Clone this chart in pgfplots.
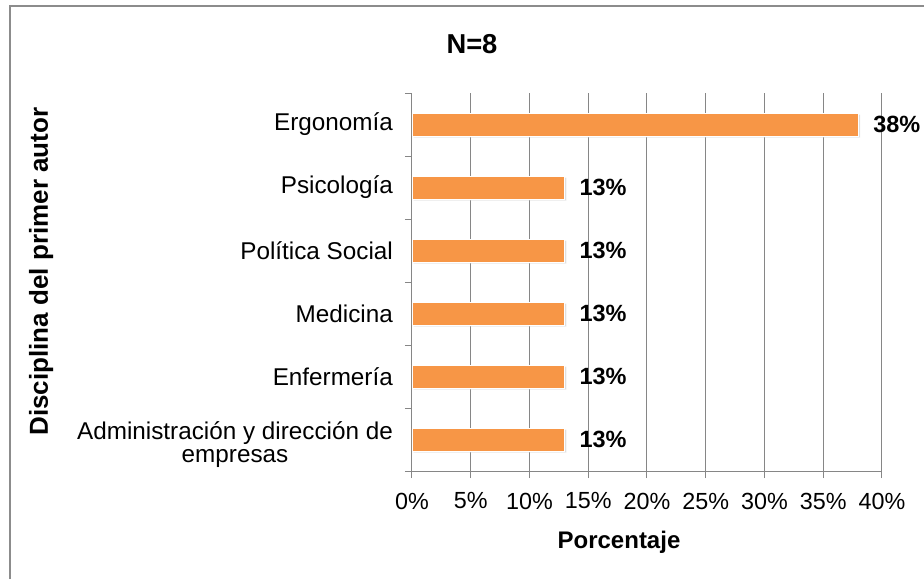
\documentclass[border=0pt]{standalone}
\usepackage{fontspec}
\setmainfont{Liberation Sans}
\usepackage{pgfplots}
\pgfplotsset{compat=1.18}
\usetikzlibrary{shadows}
\definecolor{barorange}{HTML}{F79646}
\definecolor{gridgray}{HTML}{868686}
\definecolor{framegray}{HTML}{8C8C8C}
\begin{document}
\begin{tikzpicture}[font=\fontsize{17}{17}\selectfont]
\useasboundingbox (-309pt,-81pt) rectangle (384pt,353.25pt);
\draw[color=framegray, line width=1.5pt] (-301.5pt,-81pt) -- (-301.5pt,348.75pt) -- (384pt,348.75pt);
\begin{axis}[
  at={(0pt,0pt)}, anchor=south west,
  width=352.5pt, height=283.5pt, scale only axis,
  xmin=0, xmax=40, ymin=-0.5, ymax=5.5,
  xtick={0,5,...,40},
  xticklabel={\pgfmathprintnumber{\tick}\%},
  /pgf/number format/assume math mode=true,
  xmajorgrids,
  grid style={gridgray, line width=0.75pt},
  ytick={0,...,5},
  yticklabels={{\raisebox{-4.5pt}[\height][\depth]{\begin{tabular}{@{}c@{}}Administración y dirección de\\empresas\end{tabular}}}, Enfermería, Medicina, Política Social, Psicología, Ergonomía},
  yticklabel style={font=\fontsize{18.2}{17.3}\selectfont, xshift=-5.6pt},
  xticklabel style={font=\fontsize{17.5}{17.5}\selectfont, yshift=-7.5pt},
  minor ytick={-0.5,0.5,...,5.5},
  tick align=outside,
  major tick length=5.25pt, minor tick length=5.25pt,
  major y tick style={draw=none},
  x tick style={gridgray, line width=0.75pt},
  minor y tick style={gridgray, line width=0.75pt},
  axis x line*=bottom, axis y line*=left,
  axis line style={gridgray, line width=0.75pt, -},
  xbar, bar width=17.25pt,
  point meta=x,
  nodes near coords={\pgfmathprintnumber[fixed,precision=0]{\pgfplotspointmeta}\%},
  nodes near coords style={font=\fontsize{17.6}{17.6}\selectfont\bfseries, anchor=west, xshift=7.5pt, text=black},
  clip=false,
]
\addplot[fill=barorange, draw=white, line width=0.6pt,
  drop shadow={shadow xshift=1.2pt, shadow yshift=-1.2pt, opacity=0.25}]
  coordinates {(13,0) (13,1) (13,2) (13,3) (13,4) (38,5)};
\end{axis}
\node[font=\fontsize{20.5}{20.5}\selectfont\bfseries, anchor=base] at (45pt,312.75pt) {N=8};
\node[font=\fontsize{18}{18}\selectfont\bfseries, anchor=base] at (155.25pt,-57.75pt) {Porcentaje};
\node[font=\fontsize{19.5}{19.5}\selectfont\bfseries, anchor=base, rotate=90] at (-273pt,149.6pt) {Disciplina del primer autor};
\end{tikzpicture}
\end{document}
